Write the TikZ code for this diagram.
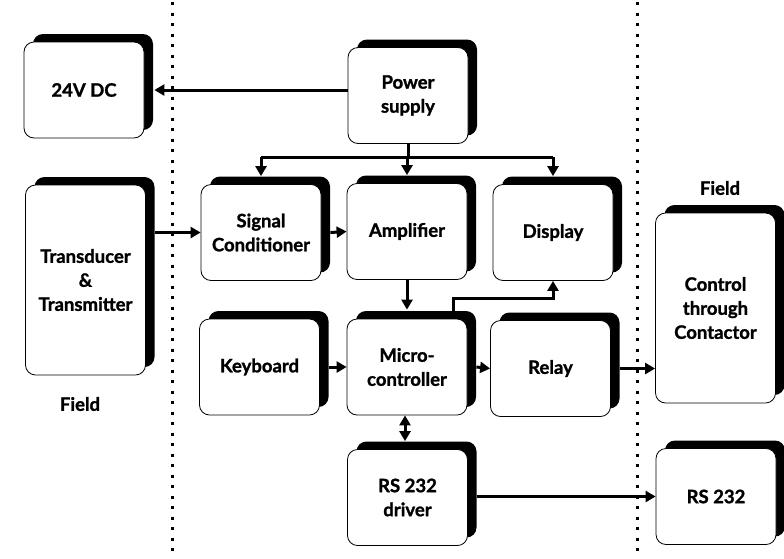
\documentclass[tikz,border=0pt]{standalone}
\usepackage{fontspec}
\setmainfont{Lato}[BoldFeatures={FakeBold=1.3}]
\usetikzlibrary{shadows,arrows.meta}
\tikzset{
  blk/.style={draw=black, line width=0.8pt, fill=white, rounded corners=10pt,
    minimum width=120pt, minimum height=96pt, align=center, inner sep=2pt,
    font=\fontsize{18.5}{24}\selectfont\bfseries,
    drop shadow={shadow xshift=9pt, shadow yshift=8pt, fill=black, opacity=1, rounded corners=10pt}},
  tall/.style={minimum height=190pt},
  conn/.style={line width=3pt, black},
  arr/.style={conn, -{Triangle[length=10pt,width=11pt]}},
  darr/.style={conn, {Triangle[length=10pt,width=11pt]}-{Triangle[length=10pt,width=11pt]}},
  sep/.style={line width=3pt, dash pattern=on 3pt off 7.5pt},
  lbl/.style={font=\fontsize{18.5}{24}\selectfont\bfseries}
}
\begin{document}
\begin{tikzpicture}[x=1pt,y=-1pt]
\useasboundingbox (0,0) rectangle (784,558);
\draw[sep] (172.5,2) -- (172.5,558);
\draw[sep] (637,2) -- (637,558);

\node[blk] (dc) at (84,90) {24V DC};
\node[blk] (ps) at (408,95.5) {Power\\supply};
\node[blk] (sc) at (261,232.5) {Signal\\Conditioner};
\node[blk] (amp) at (407,231.5) {Amplifier};
\node[blk] (disp) at (553,232.5) {Display};
\node[blk,tall] (td) at (85.5,280) {Transducer\\\&\\Transmitter};
\node[blk] (kb) at (259.5,367) {Keyboard};
\node[blk] (mc) at (407,367) {Micro-\\controller};
\node[blk] (relay) at (550.5,368.5) {Relay};
\node[blk,tall] (ctrl) at (715.5,308) {Control\\through\\Contactor};
\node[blk] (drv) at (407.5,497.5) {RS 232\\driver};
\node[blk] (rs) at (716,496.5) {RS 232};

\node[lbl] (f1) at (80,404) {Field};
\node[lbl] (f2) at (720,188) {Field};

\coordinate (bus) at (0,157);
% power supply to 24V DC
\draw[arr] (ps.west |- dc.east) -- ([xshift=10pt]dc.east);
% power bus
\draw[conn] (ps.south) -- (ps.south |- bus);
\draw[conn] (sc.north |- bus) -- (disp.north |- bus);
\draw[arr] (sc.north |- bus) -- ([yshift=8pt]sc.north);
\draw[arr] (amp.north |- bus) -- ([yshift=8pt]amp.north);
\draw[arr] (disp.north |- bus) -- ([yshift=8pt]disp.north);
% signal chain
\draw[arr] ([xshift=9pt]td.east |- sc.west) -- (sc.west);
\draw[arr] ([xshift=9pt]sc.east) -- (amp.west);
\draw[arr] (amp.south) -- ([yshift=9pt]mc.north);
\draw[arr] ([xshift=46pt,yshift=8pt]mc.north) |- ([yshift=-18pt]disp.south) -- (disp.south);
\draw[arr] ([xshift=9pt]kb.east) -- (mc.west);
\draw[arr] ([xshift=9pt]mc.east) -- (relay.west);
\draw[arr] ([xshift=9pt]relay.east) -- (relay.east -| ctrl.west);
\draw[darr] ([xshift=-2pt]mc.south) -- ([xshift=-2.5pt,yshift=8pt]drv.north);
\draw[arr] ([xshift=9pt]drv.east |- rs.west) -- (rs.west);
\end{tikzpicture}
\end{document}
